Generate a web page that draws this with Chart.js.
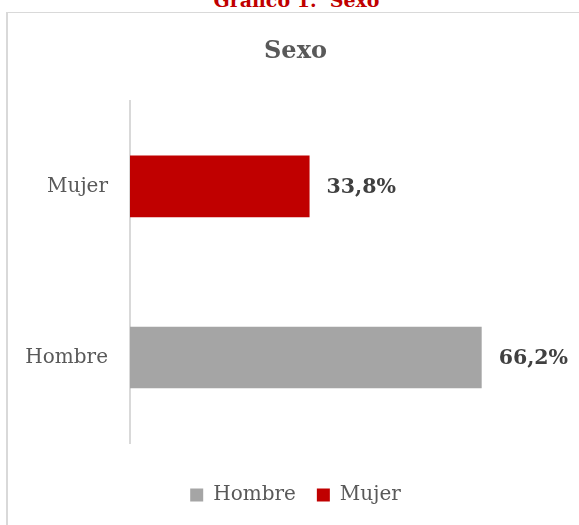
<!DOCTYPE html>
<html>
<head>
<meta charset="utf-8">
<script src="https://cdn.jsdelivr.net/npm/chart.js@4"></script>
<style>
	html, body {margin: 0; padding: 0; background: #ffffff; overflow: hidden;}
	#caption {position: absolute; left: 0; width: 593px; top: -9px; text-align: center;
		font: bold 19px/18px "DejaVu Serif"; color: #c00000; white-space: pre;}
	#frame_top {position: absolute; left: 6px; top: 12px; width: 573px; height: 1px; background: #d9d9d9;}
	#frame_left {position: absolute; left: 6px; top: 12px; width: 2px; height: 513px; background: #d9d9d9;}
	#wrap {position: absolute; left: 0; top: 0; width: 579px; height: 525px;}
</style>
</head>
<body>
<div id="caption">Gráfico 1.  Sexo</div>
<div id="frame_top"></div>
<div id="frame_left"></div>
<div id="wrap"><canvas id="myChart"></canvas></div>
<script>
var categories = ["Hombre", "Mujer"];
var values = [66.2, 33.8];
var colors = ["#a5a5a5", "#c00000"];
var x_max = 80;

var font_family = "'DejaVu Serif'";
var text_color = "#595959";

// draws the percentage next to each bar
var valueLabels = {
	id: "valueLabels",
	afterDatasetsDraw: function(chart) {
		var ctx = chart.ctx;
		var meta = chart.getDatasetMeta(0);
		ctx.save();
		ctx.font = "bold 20.5px " + font_family;
		ctx.fillStyle = "#404040";
		ctx.textAlign = "left";
		ctx.textBaseline = "middle";
		for (var i in meta.data) {
			var bar = meta.data[i];
			var txt = values[i].toFixed(1).replace(".", ",") + "%";
			ctx.fillText(txt, bar.x + 17, bar.y + 1);
		}
		ctx.restore();
	}
};

var ctx = document.getElementById('myChart').getContext('2d');
var chart = new Chart(ctx, {
	type: "bar",
	data: {
		labels: categories,
		datasets: [{
			label: "Sexo",
			data: values,
			backgroundColor: colors,
			barPercentage: 0.36,
			categoryPercentage: 1
		}]
	},
	options: {
		indexAxis: "y",
		responsive: true,
		maintainAspectRatio: false,
		animation: false,
		layout: {padding: {left: 16, right: 4, top: 0, bottom: 10}},
		scales: {
			x: {
				min: 0,
				max: x_max,
				grid: {display: false},
				border: {display: false},
				ticks: {display: false},
				afterFit: function(scale) { scale.height = 21; }
			},
			y: {
				reverse: true,
				grid: {display: false, drawTicks: false},
				border: {display: true, color: "#d9d9d9", width: 2},
				ticks: {
					color: text_color,
					padding: 22,
					font: {family: font_family, size: 20}
				},
				afterFit: function(scale) { scale.width = 114; }
			},
			// empty right axis, only keeps the plot area off the right edge
			y2: {
				position: "right",
				type: "category",
				labels: categories,
				grid: {display: false, drawTicks: false},
				border: {display: false},
				ticks: {display: false},
				afterFit: function(scale) { scale.width = 20; }
			}
		},
		plugins: {
			title: {
				display: true,
				text: "Sexo",
				color: text_color,
				font: {family: font_family, size: 24, weight: "bold"},
				padding: {top: 37, bottom: 35}
			},
			legend: {
				display: true,
				position: "bottom",
				labels: {
					boxWidth: 13,
					boxHeight: 13,
					padding: 21,
					color: text_color,
					font: {family: font_family, size: 20},
					generateLabels: function(chart) {
						return categories.map(function(c, i) {
							return {text: c, fillStyle: colors[i], strokeStyle: colors[i], fontColor: text_color, lineWidth: 0, index: i};
						});
					}
				}
			},
			tooltip: {enabled: false}
		}
	},
	plugins: [valueLabels]
});
</script>
</body>
</html>
